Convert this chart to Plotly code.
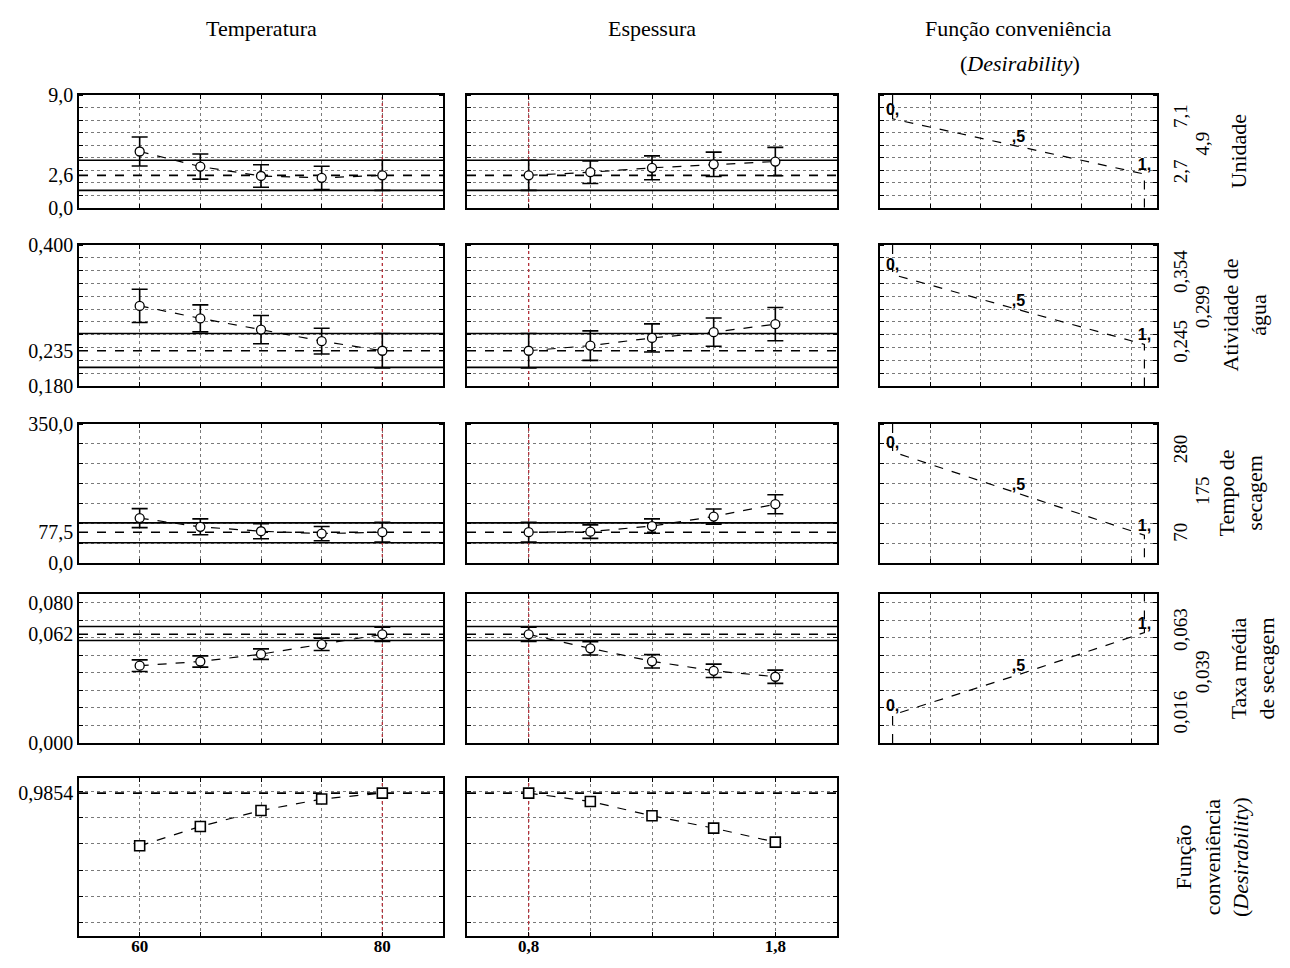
import plotly.graph_objects as go

# page is 1290x968; the html body has an 8px margin, so the figure is 1274x952
PAGE_OFF = 8
W, H = 1274, 952

# ---------------- data ----------------
temp_levels = [60, 65, 70, 75, 80]
esp_levels = [0.8, 1.05, 1.3, 1.55, 1.8]
temp_ticktext = ["<b>60</b>", "", "", "", "<b>80</b>"]
esp_ticktext = ["<b>0,8</b>", "", "", "", "<b>1,8</b>"]
temp_current = 80
esp_current = 0.8

col_titles = ["Temperatura", "Espessura", "Função conveniência"]
col3_subtitle = "(<i>Desirability</i>)"
row_titles = ["Unidade", "Atividade de<br>água", "Tempo de<br>secagem",
              "Taxa média<br>de secagem", "Função<br>conveniência<br>(<i>Desirability</i>)"]

umid_temp = [4.5, 3.3, 2.55, 2.4, 2.6]
umid_temp_err = [1.15, 1.0, 0.9, 0.93, 1.2]
umid_esp = [2.6, 2.85, 3.2, 3.48, 3.7]
umid_esp_err = [1.2, 0.9, 0.95, 0.97, 1.13]

aw_temp = [0.305, 0.2855, 0.268, 0.25, 0.235]
aw_temp_err = [0.026, 0.021, 0.022, 0.02, 0.027]
aw_esp = [0.235, 0.243, 0.255, 0.264, 0.2765]
aw_esp_err = [0.027, 0.023, 0.022, 0.022, 0.026]

tempo_temp = [113, 91, 80, 74, 77.5]
tempo_temp_err = [24, 20, 19, 18, 25]
tempo_esp = [77.5, 79, 93, 117, 148]
tempo_esp_err = [25, 17, 18, 19, 24]

taxa_temp = [0.0441, 0.0465, 0.0507, 0.0563, 0.062]
taxa_temp_err = [0.0033, 0.0032, 0.003, 0.0035, 0.004]
taxa_esp = [0.062, 0.054, 0.0466, 0.0412, 0.0378]
taxa_esp_err = [0.004, 0.0038, 0.0038, 0.0038, 0.0038]

des_temp = [0.585, 0.732, 0.853, 0.94, 0.9854]
des_esp = [0.9854, 0.922, 0.813, 0.719, 0.613]

pred_values = [2.6, 0.235, 77.5, 0.062, 0.9854]
ci_low = [1.4, 0.209, 51.0, 0.0585]
ci_high = [3.8, 0.262, 101.0, 0.0665]

y_ranges = [[0, 9], [0.18, 0.40], [0, 350], [0, 0.085], [-0.1, 1.1]]
y_grid_step = [1, 0.02, 50, 0.01, 0.2]
y_tickvals = [[0, 2.6, 9], [0.18, 0.235, 0.40], [0, 77.5, 350], [0, 0.062, 0.08], [0.9854]]
y_ticktext = [["0,0", "2,6", "9,0"], ["0,180", "0,235", "0,400"], ["0,0", "77,5", "350,0"],
              ["0,000", "0,062", "0,080"], ["0,9854"]]

des_low = [2.7, 0.245, 70, 0.016]
des_mid = [4.9, 0.299, 175, 0.039]
des_high = [7.1, 0.354, 280, 0.063]
des_low_text = ["2,7", "0,245", "70", "0,016"]
des_mid_text = ["4,9", "0,299", "175", "0,039"]
des_high_text = ["7,1", "0,354", "280", "0,063"]
des_goal = ["min", "min", "min", "max"]
des_levels = [0, 0.5, 1]
des_labels = ["<b>0,</b>", "<b>,5</b>", "<b>1,</b>"]
des_x_range = [-0.05, 1.05]

temp_series = [(umid_temp, umid_temp_err), (aw_temp, aw_temp_err), (tempo_temp, tempo_temp_err),
               (taxa_temp, taxa_temp_err), (des_temp, None)]
esp_series = [(umid_esp, umid_esp_err), (aw_esp, aw_esp_err), (tempo_esp, tempo_esp_err),
              (taxa_esp, taxa_esp_err), (des_esp, None)]

# ---------------- layout geometry (page pixels) ----------------
col_px = [(79, 443), (467, 837), (880, 1157)]
row_px = [(95, 208), (245, 386), (424, 563), (594, 743), (778, 936)]
x_ranges = [[55, 85], [0.55, 2.05], des_x_range]


def px_x(p):
    return (p - PAGE_OFF) / W


def px_y(p):
    return 1 - (p - PAGE_OFF) / H


FONT = "Liberation Serif"
GRID = "#7a7a7a"

fig = go.Figure()
layout = dict(width=W, height=H, autosize=False,
              margin=dict(l=0, r=0, t=0, b=0, autoexpand=False),
              plot_bgcolor="white", paper_bgcolor="white", showlegend=False,
              font=dict(family=FONT, size=19, color="black"))
annotations = []

cells = [(r, c) for r in range(5) for c in range(3) if not (r == 4 and c == 2)]
axis_id = {}
for i, (r, c) in enumerate(cells):
    axis_id[(r, c)] = i + 1

overlay_next = len(cells) + 1


def add_line(xv, yv, xs, color="black", width=1.6, dash="solid"):
    fig.add_trace(go.Scatter(x=xv, y=yv, xaxis="x" + xs, yaxis="y" + xs, mode="lines",
                             hoverinfo="skip",
                             line=dict(color=color, width=width, dash=dash)))


for (r, c), k in axis_id.items():
    xs = "" if k == 1 else str(k)
    xdom = [px_x(col_px[c][0]), px_x(col_px[c][1])]
    ydom = [px_y(row_px[r][1]), px_y(row_px[r][0])]

    # x axis
    if c < 2:
        levels = temp_levels if c == 0 else esp_levels
        ttext = temp_ticktext if c == 0 else esp_ticktext
        xa = dict(domain=xdom, anchor="y" + xs, range=x_ranges[c], automargin=False,
                  tickmode="array", tickvals=levels, ticktext=ttext,
                  showticklabels=(r == 4), tickfont=dict(size=17), ticklabelstandoff=-6,
                  ticks="inside", ticklen=4, tickcolor="black",
                  showgrid=True, gridcolor=GRID, griddash="dot", gridwidth=1,
                  showline=True, linecolor="black", linewidth=1.6, mirror="ticks",
                  zeroline=False)
    else:
        xa = dict(domain=xdom, anchor="y" + xs, range=x_ranges[c], automargin=False,
                  tickmode="linear", tick0=0.15, dtick=0.2, showticklabels=False,
                  ticks="inside", ticklen=4, tickcolor="black",
                  showgrid=True, gridcolor=GRID, griddash="dot", gridwidth=1,
                  showline=True, linecolor="black", linewidth=1.6, mirror="ticks",
                  zeroline=False)
    layout["xaxis" + xs] = xa

    # y axis
    ya = dict(domain=ydom, anchor="x" + xs, range=y_ranges[r], automargin=False,
              showgrid=False, zeroline=False,
              showline=True, linecolor="black", linewidth=1.6, mirror="ticks",
              ticks="",
              minor=dict(tickmode="linear", tick0=0, dtick=y_grid_step[r],
                         showgrid=True, gridcolor=GRID, griddash="dot", gridwidth=1,
                         ticks="inside", ticklen=4, tickcolor="black"))
    if c == 0:
        ya.update(tickmode="array", tickvals=y_tickvals[r], ticktext=y_ticktext[r],
                  tickfont=dict(size=20))
    elif c == 1:
        ya.update(tickmode="array", tickvals=y_tickvals[r], showticklabels=False)
    else:
        ya.update(side="right", tickmode="array", tickvals=[des_low[r], des_high[r]],
                  ticktext=[des_low_text[r], des_high_text[r]], tickangle=-90,
                  ticklabelstandoff=5, tickfont=dict(size=19))
    layout["yaxis" + xs] = ya

    # traces
    if c < 2:
        levels = temp_levels if c == 0 else esp_levels
        vals, errs = (temp_series if c == 0 else esp_series)[r]
        cur = temp_current if c == 0 else esp_current

        # confidence limits (solid), current prediction (dashed), current level (red dotted)
        if r < 4:
            for v in (ci_low[r], ci_high[r]):
                add_line(x_ranges[c], [v, v], xs)
        add_line(x_ranges[c], [pred_values[r], pred_values[r]], xs, dash="dash")
        add_line([cur, cur], y_ranges[r], xs, color="#b5303a", width=1.3, dash="dot")

        tr = dict(x=levels, y=vals, xaxis="x" + xs, yaxis="y" + xs,
                  mode="lines+markers", hoverinfo="skip",
                  line=dict(color="black", width=1.2, dash="dash"))
        if errs is not None:
            tr["error_y"] = dict(type="data", array=errs, color="black", thickness=1.6, width=8)
            tr["marker"] = dict(symbol="circle", size=9, color="white",
                                line=dict(color="black", width=1.3))
        else:
            tr["marker"] = dict(symbol="square", size=10, color="white",
                                line=dict(color="black", width=1.6))
        fig.add_trace(go.Scatter(**tr))
    else:
        top, bottom = y_ranges[r][1], y_ranges[r][0]
        lx = [des_levels[0]] + des_levels + [des_levels[-1]]
        if des_goal[r] == "min":
            pts = [des_high[r], des_mid[r], des_low[r]]
            ly = [top] + pts + [bottom]
        else:
            pts = [des_low[r], des_mid[r], des_high[r]]
            ly = [bottom] + pts + [top]
        add_line(lx, ly, xs, width=1.2, dash="dash")
        fig.add_trace(go.Scatter(x=des_levels, y=pts, xaxis="x" + xs, yaxis="y" + xs,
                                 mode="text", text=des_labels, textposition="top center",
                                 hoverinfo="skip",
                                 textfont=dict(family="Liberation Sans", size=16, color="black")))
        # overlay axis carrying the staggered middle label
        ov = str(overlay_next)
        overlay_next += 1
        layout["yaxis" + ov] = dict(overlaying="y" + xs, anchor="x" + xs, side="right",
                                    range=y_ranges[r], tickmode="array", automargin=False,
                                    tickvals=[des_mid[r]], ticktext=[des_mid_text[r]],
                                    tickangle=-90, ticklabelstandoff=32, ticks="",
                                    showgrid=False, showline=False, zeroline=False,
                                    tickfont=dict(size=19))
        fig.add_trace(go.Scatter(x=[des_levels[1]], y=[des_mid[r]], xaxis="x" + xs,
                                 yaxis="y" + ov, mode="markers", hoverinfo="skip",
                                 marker=dict(opacity=0, size=1)))

    # row titles
    if c == 0:
        xpos = [1238, 1245, 1240, 1252, 1212][r]
        annotations.append(dict(text=row_titles[r], xref="paper", x=px_x(xpos),
                                yref="y" + xs + " domain", y=0.5,
                                textangle=-90, showarrow=False,
                                font=dict(size=22), xanchor="center", yanchor="middle"))

# column titles
col_centers = [261, 652, 1018]
for c in range(3):
    annotations.append(dict(text=col_titles[c], xref="paper", yref="paper",
                            x=px_x(col_centers[c]), y=px_y(28), showarrow=False,
                            font=dict(size=22), xanchor="center", yanchor="middle"))
annotations.append(dict(text=col3_subtitle, xref="paper", yref="paper",
                        x=px_x(1020), y=px_y(63), showarrow=False,
                        font=dict(size=22), xanchor="center", yanchor="middle"))

layout["annotations"] = annotations
fig.update_layout(**layout)
fig.write_html("out.html")
